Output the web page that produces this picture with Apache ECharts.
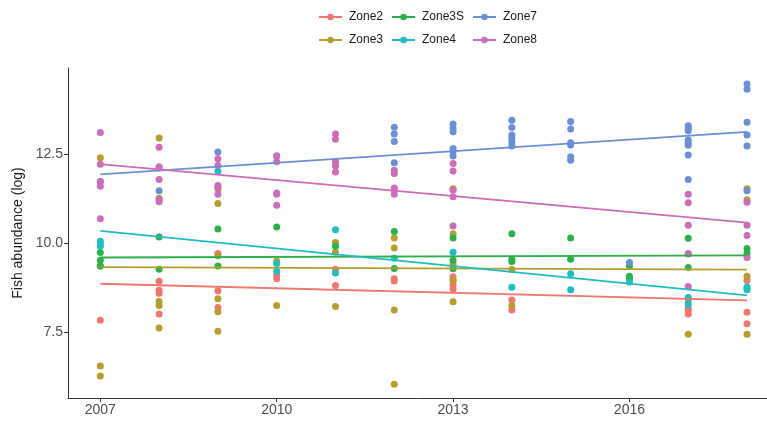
<!DOCTYPE html>
<html>
<head>
<meta charset="utf-8">
<script src="https://cdn.jsdelivr.net/npm/echarts@6/dist/echarts.min.js"></script>
<style>
  html, body { margin: 0; padding: 0; background: #fff; }
  #main { width: 767px; height: 423px; }
</style>
</head>
<body>
<div id="main"></div>
<script>
// zones, in legend order
var zoneNames = ['Zone2', 'Zone3', 'Zone3S', 'Zone4', 'Zone7', 'Zone8'];
var zoneColors = ['#F0766E', '#B59E2E', '#2CB14A', '#1DBEC2', '#6A8FD4', '#CD6CB9'];

// observed points [year, log abundance]
var zone2 = [
  [2007, 7.83],
  [2008, 8.93], [2008, 8.68], [2008, 8.59], [2008, 8.01],
  [2009, 9.71], [2009, 8.66], [2009, 8.19],
  [2010, 9.10], [2010, 9.00],
  [2011, 9.27], [2011, 8.81],
  [2012, 9.00], [2012, 8.94],
  [2013, 9.06], [2013, 8.95], [2013, 8.83], [2013, 8.71],
  [2014, 8.40], [2014, 8.12],
  [2017, 8.16], [2017, 8.09], [2017, 8.01],
  [2018, 8.95], [2018, 8.06], [2018, 7.73]
];
var zone3 = [
  [2007, 12.41], [2007, 9.36], [2007, 6.54], [2007, 6.26],
  [2008, 12.97], [2008, 11.27], [2008, 8.36], [2008, 8.25], [2008, 7.61],
  [2009, 11.53], [2009, 11.12], [2009, 9.65], [2009, 8.44], [2009, 8.07], [2009, 7.52],
  [2010, 9.50], [2010, 8.25],
  [2011, 10.02], [2011, 9.75], [2011, 8.22],
  [2012, 10.15], [2012, 9.87], [2012, 8.12], [2012, 6.03],
  [2013, 11.54], [2013, 10.27], [2013, 9.41], [2013, 8.95], [2013, 8.35],
  [2014, 9.26], [2014, 8.25],
  [2017, 8.41], [2017, 7.44],
  [2018, 11.54], [2018, 11.23], [2018, 9.07], [2018, 8.73], [2018, 7.44]
];
var zone3S = [
  [2007, 9.74], [2007, 9.52], [2007, 9.36],
  [2008, 10.18], [2008, 9.27],
  [2009, 10.40], [2009, 9.36],
  [2010, 10.46],
  [2011, 9.92],
  [2012, 10.33], [2012, 9.29],
  [2013, 10.15], [2013, 9.52], [2013, 9.28],
  [2014, 10.27], [2014, 9.55], [2014, 9.49],
  [2015, 10.15], [2015, 9.55],
  [2016, 9.35], [2016, 9.07], [2016, 9.00],
  [2017, 10.14], [2017, 9.70], [2017, 9.32],
  [2018, 9.85], [2018, 9.71]
];
var zone4 = [
  [2007, 10.06], [2007, 9.99], [2007, 9.92],
  [2009, 12.03],
  [2010, 9.43], [2010, 9.21],
  [2011, 10.38], [2011, 9.16],
  [2012, 9.58],
  [2013, 9.75],
  [2014, 8.76],
  [2015, 9.14], [2015, 8.69],
  [2016, 8.91],
  [2017, 8.47], [2017, 8.28],
  [2018, 8.77], [2018, 8.69]
];
var zone7 = [
  [2007, 11.74],
  [2008, 11.48],
  [2009, 12.57],
  [2010, 12.46],
  [2012, 13.27], [2012, 13.08], [2012, 12.87], [2012, 12.27],
  [2013, 13.36], [2013, 13.24], [2013, 13.14], [2013, 12.67], [2013, 12.58], [2013, 12.46],
  [2014, 13.47], [2014, 13.26], [2014, 13.05], [2014, 12.96], [2014, 12.86], [2014, 12.74],
  [2015, 13.43], [2015, 13.22], [2015, 12.83], [2015, 12.77], [2015, 12.44], [2015, 12.34],
  [2016, 9.46],
  [2017, 13.31], [2017, 13.24], [2017, 13.17], [2017, 12.91], [2017, 12.83], [2017, 12.76], [2017, 12.49], [2017, 11.80],
  [2018, 14.49], [2018, 14.34], [2018, 13.41], [2018, 13.05], [2018, 12.74], [2018, 11.48]
];
var zone8 = [
  [2007, 13.12], [2007, 12.23], [2007, 11.74], [2007, 11.61], [2007, 10.69],
  [2008, 12.71], [2008, 12.16], [2008, 12.12], [2008, 11.80], [2008, 11.23], [2008, 11.17],
  [2009, 12.38], [2009, 12.19], [2009, 11.63], [2009, 11.57], [2009, 11.38],
  [2010, 12.46], [2010, 12.30], [2010, 11.42], [2010, 11.38], [2010, 11.07],
  [2011, 13.08], [2011, 12.93], [2011, 12.30], [2011, 12.18], [2011, 12.01],
  [2012, 12.06], [2012, 11.97], [2012, 11.56], [2012, 11.50], [2012, 11.38],
  [2013, 12.25], [2013, 12.04], [2013, 11.50], [2013, 11.31], [2013, 10.49],
  [2017, 11.38], [2017, 11.14], [2017, 10.51], [2017, 9.71], [2017, 8.78],
  [2018, 11.16], [2018, 10.51], [2018, 10.22], [2018, 9.60]
];

// fitted trend lines, read at 2007 and 2018
var trendYears = [2007, 2018];
var zone2Trend = [8.86, 8.39];
var zone3Trend = [9.33, 9.26];
var zone3STrend = [9.60, 9.66];
var zone4Trend = [10.35, 8.53];
var zone7Trend = [11.94, 13.14];
var zone8Trend = [12.23, 10.58];

// axis ticks
var xTicks = [2007, 2010, 2013, 2016];
var yTicks = [7.5, 10.0, 12.5];

var points = [zone2, zone3, zone3S, zone4, zone7, zone8];
var trends = [zone2Trend, zone3Trend, zone3STrend, zone4Trend, zone7Trend, zone8Trend];

var series = [];
// trend lines first so the legend takes the line icon
zoneNames.forEach(function (name, i) {
    series.push({
        name: name,
        type: 'line',
        data: trendYears.map(function (yr, k) { return [yr, trends[i][k]]; }),
        symbol: 'circle',
        symbolSize: 7,
        showSymbol: false,
        z: 3,
        silent: true,
        lineStyle: { width: 1.8, color: zoneColors[i] },
        itemStyle: { color: zoneColors[i] }
    });
});
zoneNames.forEach(function (name, i) {
    series.push({
        name: name,
        type: 'scatter',
        data: points[i],
        symbolSize: 7,
        z: 2,
        itemStyle: { color: zoneColors[i], opacity: 1 }
    });
});

// 2 x 3 legend, filled by column like the original
var legendPos = [
    { left: 318, top: 11 }, { left: 318, top: 34 },
    { left: 391, top: 11 }, { left: 391, top: 34 },
    { left: 472, top: 11 }, { left: 472, top: 34 }
];
var legends = zoneNames.map(function (name, i) {
    return {
        data: [name],
        left: legendPos[i].left,
        top: legendPos[i].top,
        padding: 0,
        itemWidth: 23,
        itemHeight: 8,
        itemGap: 0,
        selectedMode: false,
        textStyle: { fontSize: 12, color: '#1a1a1a', fontFamily: 'Liberation Sans, Arial, sans-serif', padding: [0, 0, 0, 2] }
    };
});

var option = {
    animation: false,
    backgroundColor: '#fff',
    textStyle: { fontFamily: 'Liberation Sans, Arial, sans-serif' },
    legend: legends,
    grid: { left: 68, right: 0, top: 68, bottom: 25, containLabel: false },
    xAxis: {
        type: 'value',
        min: 2006.45,
        max: 2018.34,
        splitLine: { show: false },
        axisLine: { lineStyle: { color: '#333', width: 1 } },
        axisTick: { customValues: xTicks, length: 4, lineStyle: { color: '#333' } },
        axisLabel: {
            customValues: xTicks,
            color: '#4d4d4d',
            fontSize: 14,
            margin: 5,
            formatter: function (v) { return String(v); }
        }
    },
    yAxis: {
        type: 'value',
        min: 5.64,
        max: 14.94,
        name: 'Fish abundance (log)',
        nameLocation: 'middle',
        nameGap: 43,
        nameTextStyle: { fontSize: 14, color: '#1a1a1a' },
        splitLine: { show: false },
        axisLine: { show: true, lineStyle: { color: '#333', width: 1 } },
        axisTick: { show: true, customValues: yTicks, length: 4, lineStyle: { color: '#333' } },
        axisLabel: {
            customValues: yTicks,
            color: '#4d4d4d',
            fontSize: 14,
            margin: 5,
            formatter: function (v) { return v.toFixed(1); }
        }
    },
    series: series
};

var myChart = echarts.init(document.getElementById('main'));
myChart.setOption(option);
</script>
</body>
</html>
